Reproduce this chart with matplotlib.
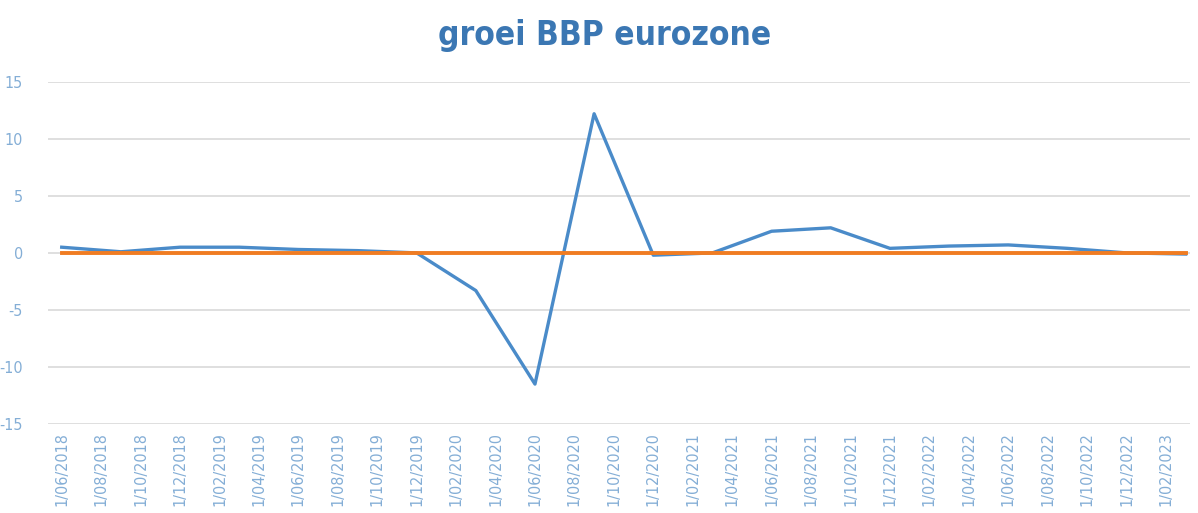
import matplotlib.pyplot as plt
import numpy as np

## data (quarterly growth, % q/q)
quarters = ["1/06/2018", "1/09/2018", "1/12/2018", "1/03/2019", "1/06/2019",
            "1/09/2019", "1/12/2019", "1/03/2020", "1/06/2020", "1/09/2020",
            "1/12/2020", "1/03/2021", "1/06/2021", "1/09/2021", "1/12/2021",
            "1/03/2022", "1/06/2022", "1/09/2022", "1/12/2022", "1/03/2023"]
groei = [0.5, 0.1, 0.5, 0.5, 0.3, 0.2, 0.0, -3.3, -11.5, 12.2,
         -0.2, 0.0, 1.9, 2.2, 0.4, 0.6, 0.7, 0.4, 0.0, -0.1]
nul_lijn = [0.0] * len(quarters)

tick_labels = ["1/06/2018", "1/08/2018", "1/10/2018", "1/12/2018", "1/02/2019",
               "1/04/2019", "1/06/2019", "1/08/2019", "1/10/2019", "1/12/2019",
               "1/02/2020", "1/04/2020", "1/06/2020", "1/08/2020", "1/10/2020",
               "1/12/2020", "1/02/2021", "1/04/2021", "1/06/2021", "1/08/2021",
               "1/10/2021", "1/12/2021", "1/02/2022", "1/04/2022", "1/06/2022",
               "1/08/2022", "1/10/2022", "1/12/2022", "1/02/2023"]


def month_index(label):
    # months since june 2018
    d, m, y = label.split("/")
    return (int(y) - 2018) * 12 + int(m) - 6


x_data = [month_index(q) for q in quarters]
x_ticks = [month_index(t) for t in tick_labels]

plt.rcParams['font.family'] = ['DejaVu Sans']
plt.rcParams['font.stretch'] = 'condensed'
plt.rcParams['axes.unicode_minus'] = False

fig = plt.figure(figsize=(11.98, 5.13), dpi=100)
ax = fig.add_axes([0.040, 0.1735, 0.953, 0.667])

ax.plot(x_data, groei, color="#4a8bc9", linewidth=2.4, zorder=3)
ax.plot(x_data, nul_lijn, color="#f07c22", linewidth=2.8, zorder=4)

ax.set_ylim(-15, 15)
ax.set_yticks([-15, -10, -5, 0, 5, 10, 15])
ax.set_xlim(-0.7, 57.2)
ax.set_xticks(x_ticks)
ax.set_xticklabels(tick_labels, rotation=90, fontsize=11.5, color="#84aed6")
ax.tick_params(axis="y", labelsize=11.5, colors="#84aed6", length=0, pad=18)
ax.tick_params(axis="x", length=0, pad=6)

ax.grid(axis="y", color="#d9d9d9", linewidth=1.2)
ax.set_axisbelow(True)
for s in ax.spines.values():
    s.set_visible(False)

fig.text(0.505, 0.93, "groei BBP eurozone", ha="center", va="center",
         fontsize=24, fontweight="bold", color="#3b77b3")

fig.savefig("out.png", dpi=100)
